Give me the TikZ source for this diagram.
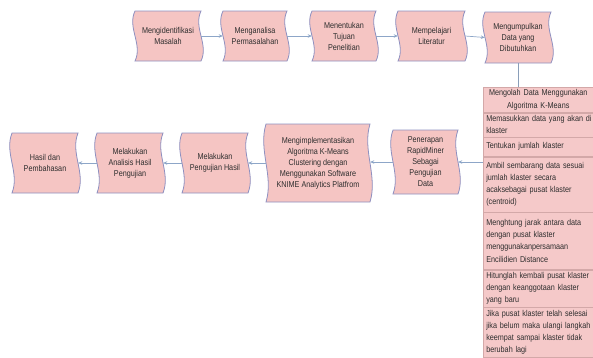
\documentclass[tikz,border=0pt]{standalone}
\usepackage{fontspec}
\setmainfont[FakeStretch=0.85]{Liberation Sans}
\usetikzlibrary{arrows.meta,calc}
\definecolor{boxfill}{HTML}{F5C5C3}
\definecolor{boxline}{HTML}{8E90C0}
\definecolor{arrcol}{HTML}{8DA6C8}
\definecolor{tabfill}{HTML}{F5C9C9}
\definecolor{tabline}{HTML}{D3A8A8}
\definecolor{txt}{HTML}{2E2E2E}
\tikzset{
  wshape/.style={draw=boxline, fill=boxfill, line width=0.8pt},
  wtext/.style={inner sep=0pt, align=center, text=txt, font=\fontsize{8.5}{11}\selectfont},
  arr/.style={draw=arrcol, line width=0.7pt, -{Stealth[length=4pt,width=3.5pt]}},
  plainline/.style={draw=arrcol!80!gray, line width=0.6pt},
  trow/.style={draw=tabline, fill=tabfill, line width=0.5pt, anchor=north west,
    minimum width=120pt, text width=114pt, inner xsep=3pt, inner ysep=0pt,
    align=left, font=\fontsize{8.5}{12.3}\selectfont, text=txt}
}
\newcommand\wbox[6]{%
  \path[wshape] (#2,#3) -- (#4,#3)
    .. controls ({#4-8},{#3+(#5-#3)/3}) and ({#4+8},{#3+2*(#5-#3)/3}) .. (#4,#5)
    -- (#2,#5)
    .. controls ({#2+8},{#3+2*(#5-#3)/3}) and ({#2-8},{#3+(#5-#3)/3}) .. (#2,#3) -- cycle;
  \node[wtext, minimum width={(#4-#2)*1pt}, minimum height={(#5-#3)*1pt}] (#1) at ({(#2+#4)/2},{(#3+#5)/2}) {#6};}
\begin{document}
\begin{tikzpicture}[x=1pt,y=-1pt]
\useasboundingbox (0,0) rectangle (593,357);
% top row
\wbox{b1}{135}{11}{201}{61}{Mengidentifikasi\\Masalah}
\wbox{b2}{223}{11}{287}{61}{Menganalisa\\Permasalahan}
\wbox{b3}{312}{11}{376}{61}{Menentukan\\Tujuan\\Penelitian}
\wbox{b4}{398}{11}{465}{61}{Mempelajari\\Literatur}
\wbox{b5}{485}{12}{551}{63}{Mengumpulkan\\Data yang\\Dibutuhkan}
% bottom row
\wbox{pen}{393}{130}{458}{194}{Penerapan\\RapidMiner\\Sebagai\\Pengujian\\Data}
\wbox{impl}{266}{124}{370}{202}{Mengimplementasikan\\Algoritma K-Means\\Clustering dengan\\Menggunakan Software\\KNIME Analytics Platfrom}
\wbox{uji}{182}{133}{248}{193}{Melakukan\\Pengujian Hasil}
\wbox{ana}{97}{133}{163}{193}{Melakukan\\Analisis Hasil\\Pengujian}
\wbox{has}{12}{133}{78}{193}{Hasil dan\\Pembahasan}
% table
\node[trow, minimum height=25pt, text width=104pt, minimum width=110pt, align=center] (r1) at (483,87) {Mengolah Data Menggunakan\\Algoritma K-Means};
\node[trow, minimum height=24pt] (r2) at (r1.south west) {\makebox[114pt][s]{Memasukkan data yang akan di}\\klaster};
\node[trow, minimum height=19pt] (r3) at (r2.south west) {Tentukan jumlah klaster};
\node[trow, minimum height=55pt] (r4) at (r3.south west) {Ambil sembarang data sesuai\\jumlah klaster secara\\acaksebagai pusat klaster\\(centroid)};
\node[trow, minimum height=57pt] (r5) at (r4.south west) {Menghtung jarak antara data\\dengan pusat klaster\\menggunakanpersamaan\\Encilidien Distance};
\node[trow, minimum height=37pt] (r6) at (r5.south west) {Hitunglah kembali pusat klaster\\dengan keanggotaan klaster\\yang baru};
\node[trow, minimum height=50pt] (r7) at (r6.south west) {Jika pusat klaster telah selesai\\jika belum maka ulangi langkah\\keempat sampai klaster tidak\\berubah lagi};
% connectors
\draw[arr] (b1.east) -- (b2.west);
\draw[arr] (b2.east) -- (b3.west);
\draw[arr] (b3.east) -- (b4.west);
\draw[arr] (b4.east) -- (b5.west);
\draw[plainline] (b5.south) -- (b5.south |- r1.north);
\draw[arr] (pen.east -| r4.west) -- (pen.east);
\draw[arr] (pen.west) -- (pen.west -| impl.east);
\draw[arr] (impl.west) -- (impl.west -| uji.east);
\draw[arr] (uji.west) -- (ana.east);
\draw[arr] (ana.west) -- (has.east);
\end{tikzpicture}
\end{document}
